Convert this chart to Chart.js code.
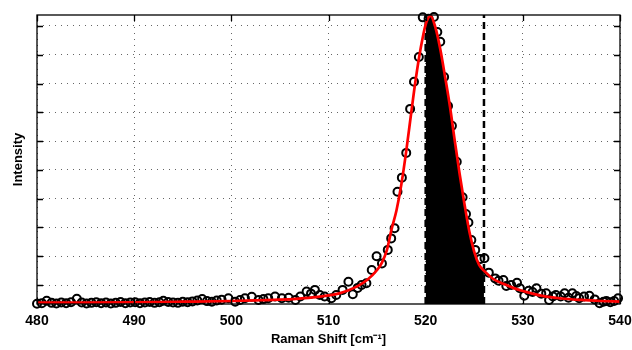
<!DOCTYPE html>
<html>
<head>
<meta charset="utf-8">
<script src="https://cdn.jsdelivr.net/npm/chart.js@4.4.0/dist/chart.umd.min.js"></script>
<style>
  html, body { margin:0; padding:0; background:#fff; }
  #raman { display:block; }
</style>
</head>
<body>
<canvas id="raman" width="632" height="350"></canvas>
<script>
/* DATA */
const ramanShift = [
  480.0,480.5,481.0,481.5,482.0,482.5,483.0,483.5,484.1,484.6,485.1,485.6,486.1,486.6,487.1,487.6,
  488.1,488.6,489.1,489.6,490.1,490.6,491.1,491.6,492.1,492.6,493.0,493.5,494.0,494.5,495.0,495.5,
  496.0,496.5,497.0,497.5,498.0,498.5,499.0,499.7,500.4,500.9,501.4,502.1,502.8,503.3,503.8,504.5,
  505.2,505.9,506.6,507.1,507.75,508.2,508.6,509.1,509.6,510.3,510.8,511.45,512.05,512.5,513.0,513.4,
  513.9,514.45,514.95,515.5,516.1,516.45,516.8,517.1,517.55,518.0,518.4,518.8,519.3,519.7,520.3,520.85,
  521.2,521.5,521.9,522.3,522.7,523.2,523.8,524.15,524.4,524.7,525.1,525.6,526.05,526.5,527.15,527.5,
  528.0,528.3,528.8,529.4,529.7,530.15,530.6,531.0,531.4,531.9,532.4,532.7,533.1,533.4,533.9,534.3,
  534.7,535.1,535.5,535.8,536.3,536.85,537.4,537.9,538.3,538.6,539.0,539.4,539.8
];
const measured = [
  350,370,450,380,360,390,370,400,520,390,360,380,400,370,390,360,
  380,410,370,390,400,370,390,410,380,400,450,410,390,380,420,400,
  430,460,510,440,420,460,490,540,420,480,540,590,480,510,540,600,
  540,560,480,600,770,700,830,650,600,540,650,830,1115,680,900,1000,
  1060,1520,2000,1750,2220,2620,2970,4240,4730,5590,7120,8060,8920,10300,10250,10310,
  9790,9450,8230,7220,6530,5280,4050,3470,3170,2560,2220,1900,1930,1430,1230,1150,
  1170,965,1000,1080,886,630,800,760,886,700,712,480,600,653,600,712,
  560,712,620,538,600,628,500,364,420,444,400,444,538
];

const fitShift = [
  480,485,490,495,500,503,505,507,508.7,510,511,512,513,514,515,515.5,516,516.5,517,517.5,
  518,518.5,519,519.5,520,520.5,521,521.5,522,522.5,523,523.5,524,524.5,525,525.5,526,
  527,528,529,530,531,532,534,536,538,540
];
const fitIntensity = [
  385,390,400,420,444,470,490,530,580,640,700,810,960,1180,1520,1780,2200,2950,3600,4500,
  5650,6950,8200,9250,10050,10350,9950,9200,8230,7200,6000,4850,3800,2850,2150,1700,1500,
  1200,1040,900,790,700,620,530,480,445,420
];

const cutLines = [520, 526];
const xTicks = [480, 490, 500, 510, 520, 530, 540];
const yTicks = [1000, 2000, 3000, 4000, 5000, 6000, 7000, 8000, 9000, 10000];
const yRange = [340, 10382];

/* DATASETS */
const pts = (xs, ys) => xs.map((x, i) => ({ x, y: ys[i] }));
const fitPts = pts(fitShift, fitIntensity);
const bandPts = fitPts.filter(p => p.x >= cutLines[0] && p.x <= cutLines[1]);

// lower order = drawn on top
const datasets = [
  {
    label:"fit", data:fitPts, order:0,
    borderColor:"#ff0000", borderWidth:2.7, pointRadius:0,
    cubicInterpolationMode:"monotone", fill:false
  },
  ...cutLines.map(c => ({
    label:"cut " + c, data:[{ x:c, y:yRange[0] }, { x:c, y:yRange[1] }], order:1,
    borderColor:"#000", borderWidth:2.5, borderDash:[7,4], pointRadius:0, fill:false
  })),
  {
    label:"band", data:bandPts, order:2,
    borderWidth:0, pointRadius:0, cubicInterpolationMode:"monotone",
    backgroundColor:"#000", fill:"start"
  },
  {
    label:"measured", data:pts(ramanShift, measured), order:3,
    showLine:false, pointRadius:4, pointBorderWidth:2,
    pointBorderColor:"#000", pointBackgroundColor:"rgba(0,0,0,0)", clip:false
  }
];

/* FRAME + INNER TICKS */
const matlabBox = {
  id:"matlabBox",
  afterDatasetsDraw(chart) {
    const { ctx, chartArea:a, scales:{ x, y } } = chart;
    ctx.save();
    ctx.strokeStyle = "#000";
    ctx.lineWidth = 1.3;
    ctx.beginPath();
    xTicks.forEach(v => {
      const px = Math.round(x.getPixelForValue(v)) + 0.5;
      ctx.moveTo(px, a.bottom); ctx.lineTo(px, a.bottom - 6);
      ctx.moveTo(px, a.top); ctx.lineTo(px, a.top + 6);
    });
    yTicks.forEach(v => {
      const py = Math.round(y.getPixelForValue(v)) + 0.5;
      ctx.moveTo(a.left, py); ctx.lineTo(a.left + 6, py);
      ctx.moveTo(a.right, py); ctx.lineTo(a.right - 6, py);
    });
    ctx.stroke();
    ctx.strokeRect(a.left, a.top, a.right - a.left, a.bottom - a.top);
    ctx.restore();
  }
};

const font = { family:"'Liberation Sans', Arial, sans-serif", weight:"bold" };

new Chart(document.getElementById("raman"), {
  type:"line",
  data:{ datasets },
  plugins:[matlabBox],
  options:{
    responsive:false,
    animation:false,
    devicePixelRatio:1,
    layout:{ padding:{ top:15, right:12, left:0, bottom:0 } },
    plugins:{ legend:{ display:false }, tooltip:{ enabled:false } },
    scales:{
      x:{
        type:"linear", min:480, max:540,
        afterFit:s => { s.height = 46; s.paddingLeft = 0; s.paddingRight = 0; },
        afterBuildTicks:s => { s.ticks = xTicks.map(v => ({ value:v })); },
        grid:{ color:"rgba(0,0,0,0.6)", lineWidth:1, drawTicks:false },
        border:{ display:false, dash:[1,5] },
        ticks:{ color:"#000", padding:9, maxRotation:0, font:{ ...font, size:14 } },
        title:{ display:true, text:"Raman Shift [cm\u207B\u00B9]", color:"#000",
                padding:{ top:0, bottom:3 }, font:{ ...font, size:13 } }
      },
      y:{
        type:"linear", min:yRange[0], max:yRange[1],
        afterFit:s => { s.width = 37; s.paddingTop = 0; s.paddingBottom = 0; },
        afterBuildTicks:s => { s.ticks = yTicks.map(v => ({ value:v })); },
        grid:{ color:"rgba(0,0,0,0.6)", lineWidth:1, drawTicks:false },
        border:{ display:false, dash:[1,5] },
        ticks:{ display:false },
        title:{ display:true, text:"Intensity", color:"#000",
                padding:{ top:11, bottom:0 }, font:{ ...font, size:13 } }
      }
    }
  }
});
</script>
</body>
</html>
